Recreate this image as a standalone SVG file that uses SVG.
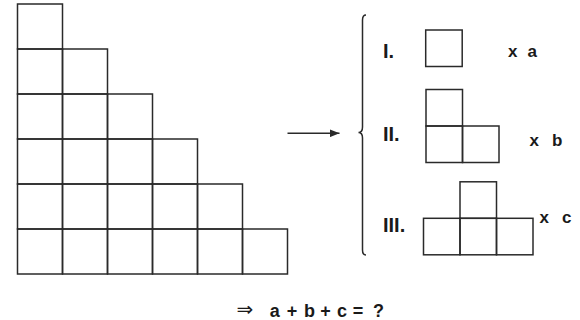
<svg xmlns="http://www.w3.org/2000/svg" width="580" height="320" viewBox="0 0 580 320">
<defs>
<style>
.c{fill:none;stroke:#2a2a2a;stroke-width:1.5}
.lbl{font-family:"Liberation Sans",Arial,sans-serif;font-weight:bold;font-size:20px;fill:#1a1a1a}
.mul{font-family:"Liberation Sans",Arial,sans-serif;font-weight:bold;font-size:17px;fill:#1a1a1a}
.eq{font-family:"Liberation Sans",Arial,sans-serif;font-weight:bold;font-size:18px;fill:#1a1a1a;text-anchor:middle}
</style>
<marker id="ah" viewBox="0 0 10 8" refX="10" refY="4" markerWidth="10" markerHeight="8" markerUnits="userSpaceOnUse" orient="auto">
<path d="M0,0 L10,4 L0,8 Z" fill="#2a2a2a"/>
</marker>
</defs>
<rect width="580" height="320" fill="#ffffff"/>
<g id="staircase" class="c">
<rect x="17.5" y="4" width="45" height="45"/>
<rect x="17.5" y="49" width="45" height="45"/><rect x="62.5" y="49" width="45" height="45"/>
<rect x="17.5" y="94" width="45" height="45"/><rect x="62.5" y="94" width="45" height="45"/><rect x="107.5" y="94" width="45" height="45"/>
<rect x="17.5" y="139" width="45" height="45"/><rect x="62.5" y="139" width="45" height="45"/><rect x="107.5" y="139" width="45" height="45"/><rect x="152.5" y="139" width="45" height="45"/>
<rect x="17.5" y="184" width="45" height="45"/><rect x="62.5" y="184" width="45" height="45"/><rect x="107.5" y="184" width="45" height="45"/><rect x="152.5" y="184" width="45" height="45"/><rect x="197.5" y="184" width="45" height="45"/>
<rect x="17.5" y="229" width="45" height="45"/><rect x="62.5" y="229" width="45" height="45"/><rect x="107.5" y="229" width="45" height="45"/><rect x="152.5" y="229" width="45" height="45"/><rect x="197.5" y="229" width="45" height="45"/><rect x="242.5" y="229" width="45" height="45"/>
</g>
<g id="connectors">
<line x1="287.5" y1="133.3" x2="339.5" y2="133.3" stroke="#2a2a2a" stroke-width="1.5" marker-end="url(#ah)"/>
<path d="M366,15 Q362.5,15 362.5,20 L362.5,127 Q362.5,132.5 358.5,132.5 Q362.5,132.5 362.5,138 L362.5,250 Q362.5,255 366,255" fill="none" stroke="#2a2a2a" stroke-width="1.5"/>
</g>
<g id="shape1">
<text class="lbl" x="383" y="58.3">I.</text>
<rect class="c" x="425.7" y="30" width="36.5" height="36.5"/>
<text class="mul" x="508" y="56.7">x</text><text class="mul" x="527.5" y="56.7">a</text>
</g>
<g id="shape2">
<text class="lbl" x="383" y="140.5">II.</text>
<rect class="c" x="426" y="89.5" width="36.5" height="36.5"/>
<rect class="c" x="426" y="126" width="36.5" height="36.5"/>
<rect class="c" x="462.5" y="126" width="36.5" height="36.5"/>
<text class="mul" x="529.5" y="145.7">x</text><text class="mul" x="552" y="145.7">b</text>
</g>
<g id="shape3">
<text class="lbl" x="383" y="231.5">III.</text>
<rect class="c" x="460" y="181.8" width="36.5" height="36.5"/>
<rect class="c" x="423.5" y="218.3" width="36.5" height="36.5"/>
<rect class="c" x="460" y="218.3" width="36.5" height="36.5"/>
<rect class="c" x="496.5" y="218.3" width="36.5" height="36.5"/>
<text class="mul" x="539.5" y="223.3">x</text><text class="mul" x="562" y="223.3">c</text>
</g>
<g id="equation">
<text x="236.5" y="316" font-family="DejaVu Sans, sans-serif" font-size="20" fill="#1a1a1a">⇒</text>
<text class="eq" y="316.5"><tspan x="274.7">a</tspan><tspan x="292">+</tspan><tspan x="309.5">b</tspan><tspan x="325.5">+</tspan><tspan x="342">c</tspan><tspan x="358">=</tspan><tspan x="378.5">?</tspan></text>
</g>
</svg>
